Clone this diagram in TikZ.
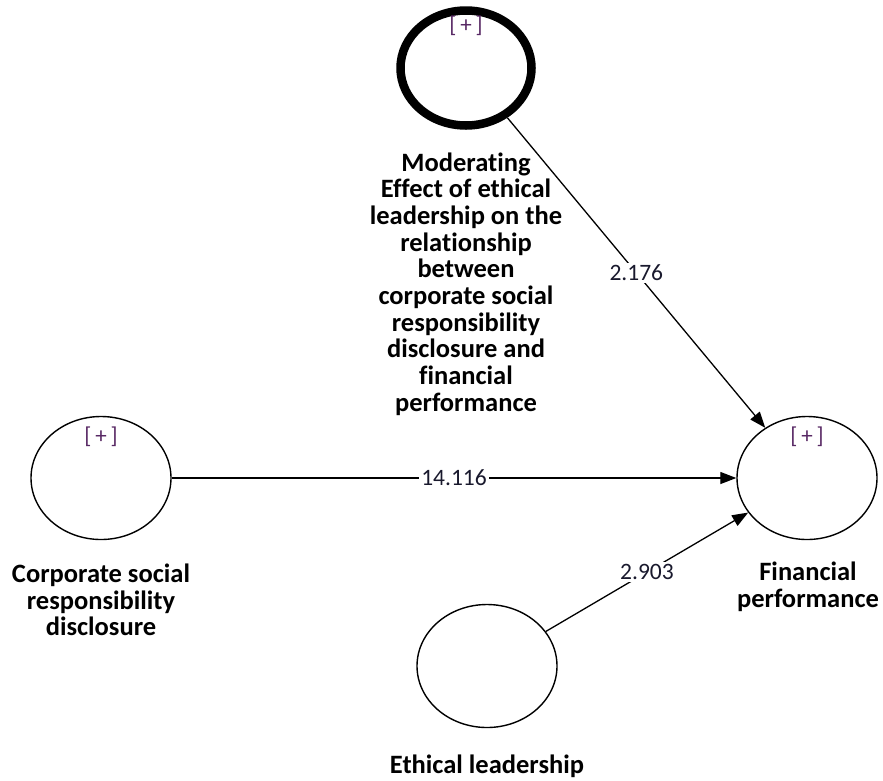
\documentclass[tikz,border=0pt]{standalone}
\usepackage{fontspec}
\setmainfont[Ligatures=NoCommon]{Carlito}
\usetikzlibrary{arrows.meta,shapes.geometric,positioning}

\definecolor{plusviolet}{RGB}{88,40,100}
\definecolor{numink}{RGB}{25,25,45}

\tikzset{
  latent/.style={draw, ellipse, line width=1.4pt, minimum width=140pt, minimum height=123pt, inner sep=0pt},
  modlatent/.style={latent, line width=8.5pt, minimum width=131pt, minimum height=115pt},
  plusmark/.style={text=plusviolet, font=\fontsize{23}{23}\selectfont, inner sep=0pt},
  latlabel/.style={align=center, inner sep=0pt, font=\bfseries\fontsize{26.5}{26.7}\selectfont},
  path/.style={line width=1.3pt, -{Triangle[length=16pt,width=12pt]}},
  weight/.style={midway, fill=white, inner sep=2pt, text=numink, font=\fontsize{23.5}{24}\selectfont}
}

\begin{document}
\begin{tikzpicture}[x=1pt, y=-1pt]
  \useasboundingbox (0,0) rectangle (883,780);

  % constructs
  \node[modlatent] (mod) at (466,68) {};
  \node[latent] (csr) at (101,478) {};
  \node[latent] (fp) at (807,478) {};
  \node[latent] (el) at (487,666) {};

  % [+] markers
  \node[plusmark] (modplus) at ([yshift=-20pt]mod.north) {[\,+\,]};
  \node[plusmark] (csrplus) at ([yshift=-21pt]csr.north) {[\,+\,]};
  \node[plusmark] (fpplus) at ([yshift=-21pt]fp.north) {[\,+\,]};

  % construct names
  \node[latlabel] (modname) at (466,284) {Moderating\\Effect of ethical\\leadership on the\\relationship\\between\\corporate social\\responsibility\\disclosure and\\financial\\performance};
  \node[latlabel] (csrname) at (101,600) {Corporate social\\responsibility\\disclosure};
  \node[latlabel] (fpname) at (808,587) {Financial\\performance};
  \node[latlabel, anchor=base] (elname) at (487,773) {Ethical leadership};

  % paths
  \draw[path] (mod) -- node[weight] {2.176} (fp);
  \draw[path] (csr) -- node[weight] {14.116} (fp);
  \draw[path] (el) -- node[weight] {2.903} (fp);
\end{tikzpicture}
\end{document}
